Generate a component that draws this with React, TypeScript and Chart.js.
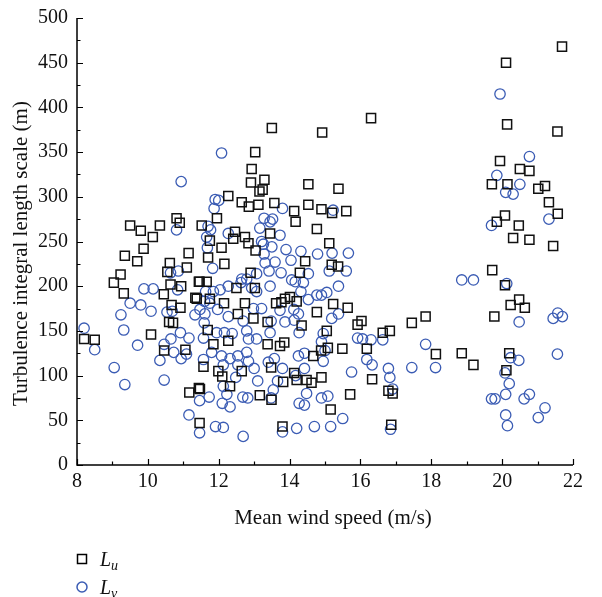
import React, { useEffect, useRef } from "react";
import { Chart, registerables } from "chart.js";

Chart.register(...registerables);

// Mean wind speed (m/s) vs. longitudinal integral length scale L_u (m)
const luData: [number, number][] = [
  [8.2, 141], [8.5, 140],
  [9.5, 268], [9.8, 262], [10.34, 268], [10.81, 276], [10.9, 271],
  [10.14, 255], [9.88, 242], [9.35, 234], [9.7, 228], [10.62, 226], [11.15, 237], [11.1, 221],
  [10.55, 216], [9.23, 213], [9.04, 204], [9.32, 192], [10.64, 202], [10.94, 200], [10.45, 191],
  [11.46, 205], [11.34, 187], [10.67, 179], [10.92, 176], [10.71, 159],
  [10.09, 146], [10.46, 128], [11.06, 129], [11.17, 81], [11.47, 85], [11.46, 47], [10.6, 160], [11.57, 110],
  [13.5, 377], [14.92, 372], [13.03, 350], [12.93, 331], [12.91, 316], [13.29, 319], [13.24, 308],
  [13.15, 306], [12.27, 301], [14.53, 314], [12.65, 294], [12.85, 289], [13.12, 291], [13.57, 293],
  [14.13, 284], [14.17, 272], [14.53, 291], [14.9, 286], [14.77, 264], [11.95, 276], [11.52, 268],
  [13.45, 259], [12.46, 261], [12.74, 255], [12.84, 248], [12.08, 243], [11.75, 251], [12.41, 253],
  [11.7, 232], [12.16, 225], [14.44, 228], [13.04, 240], [12.9, 215],
  [16.3, 388], [15.38, 309], [15.2, 282], [15.6, 284], [15.12, 248], [15.19, 224], [15.37, 222],
  [11.44, 205], [11.66, 205], [11.38, 186], [12.5, 198], [13.02, 198], [12.74, 181], [12.15, 181],
  [11.75, 186], [12.54, 169], [12.98, 164], [13.38, 160], [13.62, 181], [13.77, 182], [14.01, 188],
  [14.2, 183], [14.34, 156], [14.77, 171], [11.69, 151], [11.85, 135], [12.27, 139], [13.38, 135],
  [13.73, 133], [13.85, 137], [14.67, 122], [14.89, 128], [11.99, 105], [12.1, 99], [12.32, 88],
  [12.65, 105], [13.48, 109], [13.82, 93], [13.16, 78], [13.49, 73], [14.13, 103], [14.2, 95],
  [14.48, 95], [14.62, 92], [14.9, 98], [11.44, 86], [13.8, 43], [14.29, 215], [13.87, 186],
  [15.23, 180], [15.64, 176], [16.03, 161], [15.92, 157], [15.05, 150], [16.63, 148], [16.83, 150],
  [17.45, 159], [17.84, 166], [15.08, 131], [15.49, 130], [16.18, 130], [16.33, 96], [15.71, 79],
  [16.79, 83], [16.91, 80], [15.16, 62], [16.87, 45], [18.13, 124],
  [21.69, 468], [20.11, 450], [20.14, 381], [21.56, 373], [19.94, 340], [20.5, 331], [20.77, 329],
  [19.71, 314], [20.15, 314], [21.02, 309], [21.21, 312], [21.32, 294], [21.57, 281], [20.08, 279],
  [19.85, 272], [20.47, 268], [20.31, 254], [20.77, 252], [21.44, 245], [19.72, 218], [20.08, 201],
  [20.48, 185], [20.24, 179], [20.64, 176], [19.78, 166], [18.86, 125], [20.2, 125], [19.19, 112],
  [20.12, 106],
];

// Mean wind speed (m/s) vs. lateral integral length scale L_v (m)
const lvData: [number, number][] = [
  [8.2, 153], [8.5, 129], [10.94, 317], [10.81, 263], [10.64, 215], [10.86, 217], [9.89, 197],
  [10.15, 197], [10.84, 196], [9.5, 181], [9.8, 179], [10.09, 172], [9.24, 168], [10.54, 171],
  [10.69, 172], [11.33, 168], [11.47, 174], [11.6, 183],
  [9.32, 151], [9.05, 109], [9.35, 90], [9.71, 134], [10.34, 117], [10.46, 95], [10.46, 135],
  [10.65, 141], [10.73, 126], [10.92, 148], [11.09, 124], [10.94, 119], [11.16, 142], [11.46, 72],
  [11.16, 56], [11.46, 36], [11.57, 142], [11.57, 118],
  [12.08, 349], [11.9, 297], [12.0, 296], [11.87, 287], [13.8, 287], [13.28, 276], [13.45, 272],
  [13.52, 275], [13.16, 265], [11.7, 267], [11.77, 263], [11.66, 255], [11.68, 243], [12.27, 259],
  [13.73, 257], [13.21, 250], [13.26, 247], [13.5, 244], [13.9, 241], [14.32, 239], [14.79, 236],
  [13.28, 236], [14.04, 229], [13.59, 227], [13.31, 226], [11.83, 220],
  [15.23, 285], [15.2, 237], [15.66, 237], [15.12, 217], [15.6, 217],
  [12.65, 208], [12.79, 208], [13.07, 214], [13.42, 217], [13.76, 215], [14.06, 207], [14.53, 214],
  [11.63, 194], [11.85, 194], [12.04, 196], [12.27, 200], [12.63, 204], [12.93, 198], [13.07, 194],
  [13.45, 200], [14.16, 205], [14.39, 204], [14.32, 194], [14.53, 185], [14.77, 190], [14.9, 190],
  [11.75, 181], [11.97, 174], [11.61, 169], [11.59, 159], [12.27, 166], [12.98, 175], [13.21, 175],
  [12.69, 161], [13.48, 161], [13.73, 173], [13.87, 160], [14.12, 174], [14.25, 169], [14.13, 162],
  [14.27, 148], [13.45, 148], [11.94, 148], [12.16, 148], [12.38, 147], [12.84, 141], [13.07, 141],
  [12.79, 150], [11.8, 126], [12.08, 122], [12.32, 119], [12.54, 122], [12.79, 126],
  [12.13, 112], [12.54, 112], [12.84, 116], [13.0, 108], [13.4, 115], [13.57, 119], [13.8, 108],
  [14.25, 122], [14.42, 125], [14.17, 100], [14.42, 108], [14.95, 116], [12.48, 98], [13.1, 94],
  [13.66, 94], [13.54, 84], [12.13, 88], [12.23, 79], [11.73, 76], [12.68, 76], [12.82, 75],
  [12.1, 69], [12.32, 65], [13.48, 75], [14.27, 69], [14.42, 67], [14.48, 80], [14.9, 75],
  [11.91, 43], [12.13, 42], [12.69, 32], [13.8, 37], [14.2, 41], [14.7, 43],
  [15.38, 200], [15.05, 193], [15.38, 169], [15.19, 164], [14.95, 147], [14.9, 138], [15.92, 142],
  [16.06, 141], [16.3, 140], [16.63, 140], [15.0, 128], [16.18, 118], [16.33, 112], [15.75, 104],
  [16.79, 108], [16.83, 98], [16.91, 85], [17.84, 135], [17.45, 109], [18.12, 109], [15.08, 77],
  [15.5, 52], [15.16, 43], [16.85, 40],
  [19.94, 415], [20.77, 345], [19.85, 324], [20.5, 314], [20.1, 305], [20.31, 303], [19.7, 268],
  [21.32, 275], [18.86, 207], [19.19, 207], [20.13, 203], [20.48, 160], [21.44, 164], [21.57, 170],
  [21.7, 166], [21.56, 124], [20.24, 120], [20.47, 117], [20.08, 103], [20.2, 91], [20.1, 79],
  [19.7, 74], [19.8, 74], [20.62, 74], [20.77, 79], [21.21, 64], [21.02, 53], [20.1, 56], [20.15, 44],
];

const xTicks = [8, 10, 12, 14, 16, 18, 20, 22];
const yTicks = [0, 50, 100, 150, 200, 250, 300, 350, 400, 450, 500];
const xTitle = "Mean wind speed (m/s)";
const yTitle = "Turbulence integral length scale (m)";

const SERIF = '"Liberation Serif", "DejaVu Serif", serif';
const BLUE = "#3b5cb4";

// Draws the open L-shaped axes with inward ticks, tick labels, titles and the legend.
const axesPlugin = {
  id: "openAxes",
  afterDraw(chart: any) {
    const { ctx, chartArea, scales } = chart;
    const { left, right, top, bottom } = chartArea;
    const xs = scales.x;
    const ys = scales.y;
    ctx.save();
    ctx.strokeStyle = "#000";
    ctx.lineWidth = 1.5;
    ctx.beginPath();
    ctx.moveTo(left, top);
    ctx.lineTo(left, bottom);
    ctx.lineTo(right, bottom);
    ctx.stroke();

    ctx.lineWidth = 1.2;
    ctx.beginPath();
    for (let v = 0; v <= 500; v += 25) {
      const py = Math.round(ys.getPixelForValue(v)) + 0.5;
      const len = v % 50 === 0 ? 6 : 3.5;
      ctx.moveTo(left, py);
      ctx.lineTo(left + len, py);
    }
    for (let v = 8; v <= 22; v += 1) {
      const px = Math.round(xs.getPixelForValue(v)) + 0.5;
      const len = v % 2 === 0 ? 6 : 3.5;
      ctx.moveTo(px, bottom);
      ctx.lineTo(px, bottom - len);
    }
    ctx.stroke();

    ctx.fillStyle = "#111";
    ctx.font = `20px ${SERIF}`;
    ctx.textAlign = "right";
    ctx.textBaseline = "middle";
    for (const v of yTicks) {
      ctx.fillText(String(v), left - 9, ys.getPixelForValue(v));
    }
    ctx.textAlign = "center";
    ctx.textBaseline = "top";
    for (const v of xTicks) {
      ctx.fillText(String(v), xs.getPixelForValue(v), bottom + 7);
    }

    ctx.font = `21px ${SERIF}`;
    ctx.textBaseline = "middle";
    ctx.fillText(xTitle, (left + right) / 2 + 8, bottom + 53);
    ctx.save();
    ctx.translate(13, (top + bottom) / 2 + 12);
    ctx.rotate(-Math.PI / 2);
    ctx.fillText(yTitle, 0, 0);
    ctx.restore();

    // Legend
    const lx = 74;
    const ly1 = 551;
    const ly2 = 579;
    ctx.lineWidth = 1.5;
    ctx.strokeStyle = "#000";
    ctx.strokeRect(lx - 4.5, ly1 - 4.5, 9, 9);
    ctx.strokeStyle = BLUE;
    ctx.beginPath();
    ctx.arc(lx, ly2, 5, 0, Math.PI * 2);
    ctx.stroke();
    ctx.fillStyle = "#111";
    ctx.textAlign = "left";
    ctx.textBaseline = "alphabetic";
    const drawSym = (sub: string, y: number) => {
      ctx.font = `italic 20px ${SERIF}`;
      ctx.fillText("L", 92, y + 7);
      const w = ctx.measureText("L").width;
      ctx.font = `italic 14px ${SERIF}`;
      ctx.fillText(sub, 92 + w, y + 11);
    };
    drawSym("u", ly1);
    drawSym("v", ly2);
    ctx.restore();
  },
};

export default function App() {
  const canvasRef = useRef<HTMLCanvasElement | null>(null);

  useEffect(() => {
    if (!canvasRef.current) return;
    const chart = new Chart(canvasRef.current, {
      type: "scatter",
      data: {
        datasets: [
          {
            label: "Lu",
            data: luData.map(([x, y]) => ({ x, y })),
            pointStyle: "rect",
            pointRadius: 6.4,
            pointBorderWidth: 1.5,
            pointBorderColor: "#111",
            pointBackgroundColor: "rgba(0,0,0,0)",
            clip: false,
          },
          {
            label: "Lv",
            data: lvData.map(([x, y]) => ({ x, y })),
            pointStyle: "circle",
            pointRadius: 5.2,
            pointBorderWidth: 1.3,
            pointBorderColor: BLUE,
            pointBackgroundColor: "rgba(0,0,0,0)",
            clip: false,
          },
        ],
      },
      options: {
        animation: false,
        responsive: false,
        maintainAspectRatio: false,
        layout: { padding: { left: 69, right: 21, top: 10, bottom: 132 } },
        plugins: { legend: { display: false }, tooltip: { enabled: false } },
        scales: {
          x: { type: "linear", min: 8, max: 22, display: false },
          y: { type: "linear", min: 0, max: 500, display: false },
        },
      },
      plugins: [axesPlugin],
    });
    return () => chart.destroy();
  }, []);

  return (
    <div style={{ width: 586, height: 589 }}>
      <canvas ref={canvasRef} width={586} height={589} style={{ display: "block" }} />
    </div>
  );
}
